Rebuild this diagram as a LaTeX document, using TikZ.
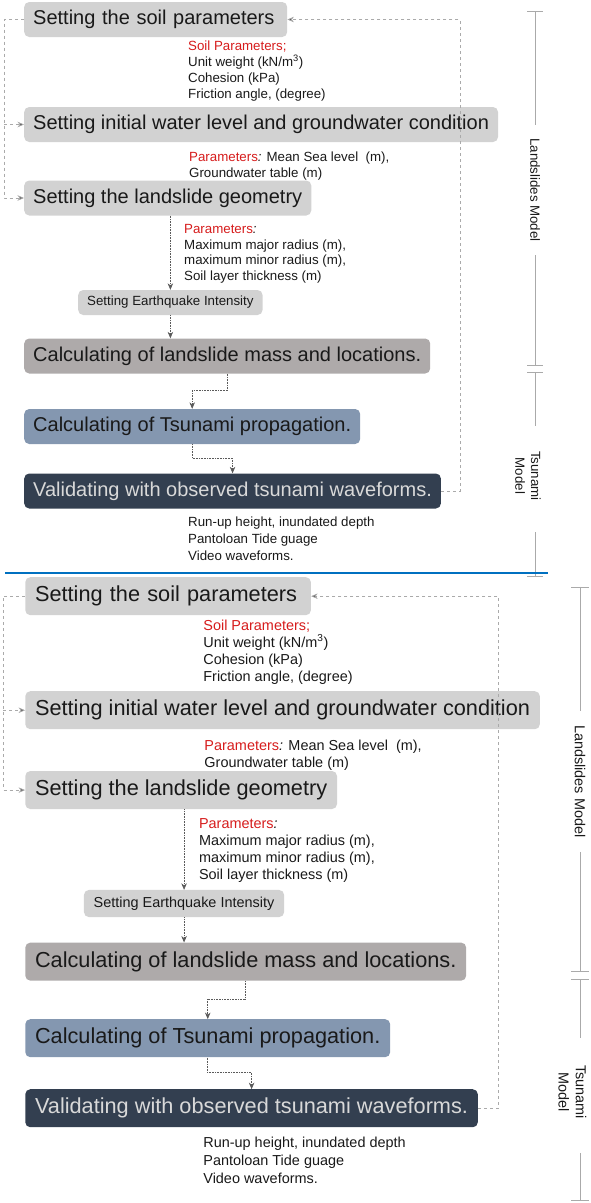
\documentclass[tikz,border=0pt]{standalone}
\usepackage{fontspec}
\setmainfont{Liberation Sans}
\usepackage{tikz}
\usetikzlibrary{arrows,arrows.meta}
\definecolor{boxgray}{RGB}{210,210,210}
\definecolor{massgray}{RGB}{174,170,170}
\definecolor{tsublue}{RGB}{132,151,176}
\definecolor{navybox}{RGB}{51,63,80}
\definecolor{parred}{RGB}{214,28,28}
\definecolor{linegray}{RGB}{170,170,170}
\definecolor{flowgray}{RGB}{90,90,90}
\definecolor{inkgray}{RGB}{25,25,25}
\definecolor{splitblue}{RGB}{0,112,192}
\newcommand\bigfont{\fontsize{20}{23}\selectfont}
\newcommand\smallfont{\fontsize{13.3}{15.8}\selectfont}
\tikzstyle{stepbox} = [rectangle, rounded corners=5pt, fill=boxgray, font=\bigfont, text=inkgray, inner xsep=9pt, inner ysep=0pt, minimum height=35pt, anchor=west]
\tikzstyle{massbox} = [stepbox, fill=massgray]
\tikzstyle{tsubox} = [stepbox, fill=tsublue]
\tikzstyle{checkbox} = [stepbox, fill=navybox, text=black!15]
\tikzstyle{quakebox} = [stepbox, font=\smallfont, minimum height=25pt]
\tikzstyle{note} = [anchor=north west, inner sep=0pt, font=\smallfont, align=left, text=inkgray]
\tikzstyle{flow} = [-{Stealth[length=6.5pt,width=5.5pt,fill=flowgray]}, densely dotted, draw=flowgray, line width=0.6pt]
\tikzstyle{backline} = [-{Stealth[length=6.5pt,width=5.5pt,fill=flowgray]}, dashed, draw=linegray, line width=0.6pt]
\tikzstyle{modelbar} = [draw=linegray, line width=0.8pt]
\tikzstyle{modeltext} = [rotate=-90, font=\smallfont, align=center, text=inkgray, inner sep=0pt]

% one copy of the flow chart, node names start with #1
\newcommand\flowcopy[1]{%
\node [stepbox, text width=245pt, align=left] (#1soil) at (24,19.5) {Setting the soil parameters};
\node [note] (#1soilpar) at (188,41) {\textcolor{parred}{Soil Parameters;}\\Unit weight (kN/m\textsuperscript{3})\\Cohesion (kPa)\\Friction angle, (degree)};
\node [stepbox] (#1water) at (24,124.5) {Setting initial water level and groundwater condition};
\node [note] (#1waterpar) at (189,152) {\textcolor{parred}{Parameters}\textit{:} Mean Sea level\ \ (m),\\Groundwater table (m)};
\node [stepbox] (#1geom) at (24,198) {Setting the landslide geometry};
\node [note] (#1geompar) at (184,224) {\textcolor{parred}{Parameters}\textit{:}\\Maximum major radius (m),\\maximum minor radius (m),\\Soil layer thickness (m)};
\node [quakebox] (#1quake) at (78,302.5) {Setting Earthquake Intensity};
\node [massbox] (#1mass) at (24,356) {Calculating of landslide mass and locations.};
\node [tsubox] (#1tsu) at (24,426.5) {Calculating of Tsunami propagation.};
\node [checkbox] (#1check) at (24,491) {Validating with observed tsunami waveforms.};
\node [note, font=\fontsize{13.3}{16.8}\selectfont] (#1obs) at (188,517) {Run-up height, inundated depth\\Pantoloan Tide guage\\Video waveforms.};
\coordinate (#1back) at (460,0);
% main flow
\draw [flow] (#1quake.north |- #1geom.south) -- (#1quake.north);
\draw [flow] (#1quake.south) -- (#1quake.south |- #1mass.north);
\draw [flow] (#1mass.south) -- ++(0,17) -| (#1tsu.north);
\draw [flow] (#1tsu.south) -- ++(0,14) -| (#1check.north);
% feedback lines
\draw [backline] (#1soil.west) -- ++(-20,0) |- (#1geom.west);
\draw [backline] ([xshift=-20pt]#1water.west) -- (#1water.west);
\draw [backline] (#1check.east) -| (#1back |- #1soil.east) -- (#1soil.east);
% model brackets
\draw [modelbar] (527,11) -- (543,11) (535,11) -- (535,125) (535,255) -- (535,365) (527,365) -- (543,365);
\draw [modelbar] (527,372) -- (543,372) (535,372) -- (535,426) (535,532) -- (535,576) (527,576) -- (543,576);
\node [modeltext] (#1landlbl) at (535,190) {Landslides Model};
\node [modeltext] (#1tsulbl) at (528,476) {Tsunami\\Model};
}

\begin{document}
\begin{tikzpicture}[x=1pt, y=-1pt]
\useasboundingbox (0,0) rectangle (590,1203);
\flowcopy{up}
\draw [splitblue, line width=1.2pt] (5,573) -- (548,573);
\begin{scope}[shift={(-1,575)}, scale=1.086, transform shape]
\flowcopy{low}
\end{scope}
\end{tikzpicture}
\end{document}
